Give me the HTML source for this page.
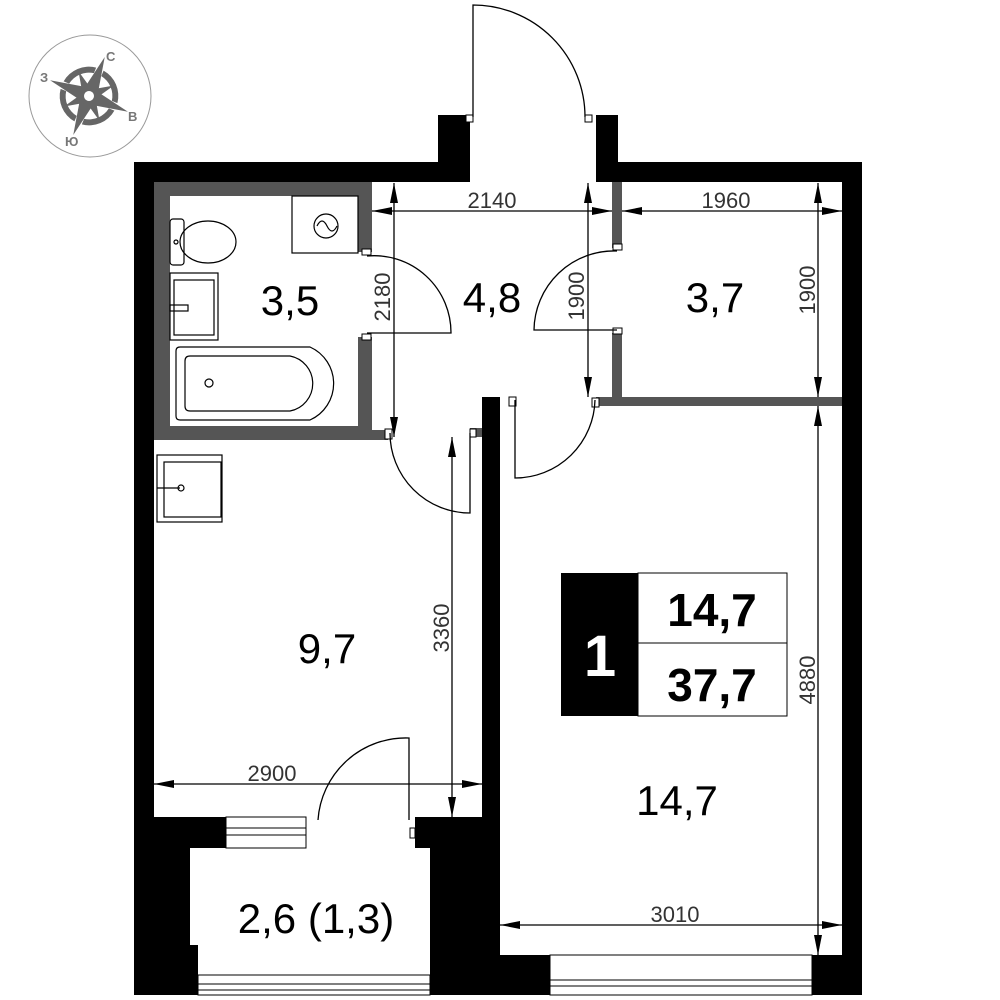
<!DOCTYPE html>
<html><head><meta charset="utf-8"><style>
html,body{margin:0;padding:0;background:#fff}
svg{display:block}
text{font-family:"Liberation Sans",sans-serif}
</style></head><body>
<svg width="1000" height="1000" viewBox="0 0 1000 1000" xmlns="http://www.w3.org/2000/svg">
<defs>
<marker id="b" viewBox="0 0 20 10" refX="20" refY="5" markerWidth="20" markerHeight="10" markerUnits="userSpaceOnUse" orient="auto-start-reverse"><path d="M0,1 L20,5 L0,9 z" fill="#000"/></marker>
</defs>
<!-- compass -->
<g>
<circle cx="90" cy="96" r="61" fill="none" stroke="#999" stroke-width="1"/>
<g transform="translate(89,96) rotate(22)" fill="#666" stroke="none">
<path d="M-29,-4 A29,29 0 0 1 -4,-29 L-4,-23 A23,23 0 0 0 -23,-4z"/>
<path d="M29,4 A29,29 0 0 1 4,29 L4,23 A23,23 0 0 0 23,4z"/>
<path d="M4,-29 A29,29 0 0 1 29,-4 L23,-4 A23,23 0 0 0 4,-23z"/>
<path d="M-29,4 A29,29 0 0 0 -4,29 L-4,23 A23,23 0 0 1 -23,4z"/>
<path d="M0,-42 L7,-7 L0,0z M0,-42 L-7,-7 L0,0z M0,42 L7,7 L0,0z M0,42 L-7,7 L0,0z M-42,0 L-7,-7 L0,0z M-42,0 L-7,7 L0,0z M42,0 L7,-7 L0,0z M42,0 L7,7 L0,0z"/>
<g transform="rotate(45)"><path d="M0,-27 L5,-5 L0,0z M0,-27 L-5,-5 L0,0z M0,27 L5,5 L0,0z M0,27 L-5,5 L0,0z M-27,0 L-5,-5 L0,0z M-27,0 L-5,5 L0,0z M27,0 L5,-5 L0,0z M27,0 L5,5 L0,0z"/></g>
<circle r="7" fill="#fff" stroke="#666" stroke-width="4"/>
</g>
<g fill="#777" font-weight="bold" font-size="13">
<text x="106" y="61">С</text><text x="128" y="121">В</text><text x="65" y="146">Ю</text><text x="40" y="82">З</text>
</g>
</g>
<!-- black walls -->
<g fill="#000">
<rect x="134" y="162" width="328" height="20"/>
<rect x="438" y="115" width="32" height="67"/>
<rect x="596" y="115" width="22" height="67"/>
<rect x="596" y="162" width="266" height="20"/>
<rect x="842" y="162" width="20" height="833"/>
<rect x="134" y="162" width="20" height="655"/>
<rect x="134" y="817" width="56" height="178"/>
<rect x="190" y="817" width="36" height="31"/>
<rect x="190" y="945" width="8" height="50"/>
<rect x="415" y="817" width="85" height="31"/>
<rect x="430" y="848" width="70" height="147"/>
<rect x="482" y="397" width="18" height="420"/>
<rect x="500" y="955" width="50" height="40"/>
<rect x="812" y="955" width="50" height="40"/>
</g>
<!-- gray walls -->
<g fill="#555">
<rect x="154" y="182" width="218" height="14"/>
<rect x="154" y="182" width="16" height="258"/>
<rect x="154" y="426" width="218" height="14"/>
<rect x="358" y="182" width="14" height="70"/>
<rect x="358" y="337" width="14" height="103"/>
<rect x="372" y="430" width="16" height="10"/>
<rect x="612" y="182" width="10" height="66"/>
<rect x="612" y="333" width="10" height="64"/>
<rect x="596" y="397" width="246" height="9"/>
<rect x="470" y="428" width="12" height="9"/>
</g>
<!-- door hinge squares -->
<g fill="#fff" stroke="#000" stroke-width="1">
<rect x="466" y="115" width="7" height="7"/><rect x="585" y="115" width="7" height="7"/>
<rect x="362" y="249" width="9" height="6"/><rect x="362" y="334" width="9" height="6"/>
<rect x="613" y="244" width="9" height="6"/><rect x="613" y="328" width="9" height="6"/>
<rect x="385" y="429" width="7" height="10"/><rect x="470" y="429" width="6" height="8"/>
<rect x="509" y="397" width="7" height="9"/><rect x="592" y="398" width="7" height="9"/>
</g>
<!-- doors -->
<g fill="none" stroke="#000" stroke-width="1.3">
<path d="M473,117 L473,5 A112,112 0 0 1 585,117"/>
<path d="M367,256 A77,77 0 0 1 451,333 L367,333"/>
<path d="M617,251 A80,80 0 0 0 534,330 L617,330"/>
<path d="M390,433 A80,80 0 0 0 470,513 L470,433"/>
<path d="M515,400 L515,478 A80,80 0 0 0 595,400"/>
<path d="M409,820 L409,738 A88,88 0 0 0 318,820"/>
</g>
<!-- windows -->
<g fill="#fff" stroke="#000" stroke-width="1">
<rect x="226" y="817" width="80" height="31"/>
<line x1="226" y1="828" x2="306" y2="828"/><line x1="226" y1="835" x2="306" y2="835"/>
<rect x="198" y="975" width="232" height="20"/>
<line x1="198" y1="984" x2="430" y2="984"/><line x1="198" y1="990" x2="430" y2="990"/>
<rect x="550" y="955" width="262" height="40"/>
<line x1="550" y1="980" x2="812" y2="980"/><line x1="550" y1="986" x2="812" y2="986"/>
</g>
<rect x="410" y="828" width="5" height="10" fill="#fff" stroke="#000"/>
<!-- fixtures -->
<g fill="none" stroke="#000" stroke-width="1.2">
<rect x="292" y="196" width="66" height="57"/>
<circle cx="326" cy="226" r="12"/>
<path d="M317,226 q5,-10 10,0 q5,10 10,0"/>
<rect x="170" y="219" width="14" height="46" rx="3"/>
<ellipse cx="208" cy="242" rx="28" ry="21"/>
<circle cx="176" cy="242" r="2"/>
<rect x="170" y="273" width="48" height="67"/>
<rect x="174" y="280" width="40" height="55"/>
<rect x="170" y="305" width="18" height="6"/>
<path d="M180,347 H310 A40,40 0 0 1 310,420 H180 Q176,420 176,416 V351 Q176,347 180,347 Z"/>
<path d="M190,356 H290 A28,28 0 0 1 290,411 H190 Q185,411 185,406 V361 Q185,356 190,356 Z"/>
<circle cx="209" cy="383" r="4"/>
<rect x="157" y="455" width="65" height="67"/>
<rect x="164" y="462" width="57" height="55"/>
<line x1="157" y1="488" x2="180" y2="488"/>
<circle cx="181" cy="488" r="3"/>
</g>
<!-- dimension lines -->
<g stroke="#000" stroke-width="1.3" fill="none">
<line x1="372" y1="211" x2="612" y2="211" marker-start="url(#b)" marker-end="url(#b)"/>
<line x1="622" y1="211" x2="842" y2="211" marker-start="url(#b)" marker-end="url(#b)"/>
<line x1="394" y1="183" x2="394" y2="437" marker-start="url(#b)" marker-end="url(#b)"/>
<line x1="588" y1="183" x2="588" y2="397" marker-start="url(#b)" marker-end="url(#b)"/>
<line x1="818" y1="183" x2="818" y2="397" marker-start="url(#b)" marker-end="url(#b)"/>
<line x1="452" y1="437" x2="452" y2="817" marker-start="url(#b)" marker-end="url(#b)"/>
<line x1="154" y1="784" x2="482" y2="784" marker-start="url(#b)" marker-end="url(#b)"/>
<line x1="818" y1="406" x2="818" y2="955" marker-start="url(#b)" marker-end="url(#b)"/>
<line x1="500" y1="925" x2="842" y2="925" marker-start="url(#b)" marker-end="url(#b)"/>
</g>
<g fill="#333" font-size="22">
<text x="492" y="208" text-anchor="middle">2140</text>
<text x="726" y="208" text-anchor="middle">1960</text>
<text x="272" y="781" text-anchor="middle">2900</text>
<text x="675" y="922" text-anchor="middle">3010</text>
<text transform="translate(390,297) rotate(-90)" text-anchor="middle">2180</text>
<text transform="translate(584,296) rotate(-90)" text-anchor="middle">1900</text>
<text transform="translate(815,290) rotate(-90)" text-anchor="middle">1900</text>
<text transform="translate(449,628) rotate(-90)" text-anchor="middle">3360</text>
<text transform="translate(815,680) rotate(-90)" text-anchor="middle">4880</text>
</g>
<!-- area labels -->
<g fill="#000" font-size="42" text-anchor="middle">
<text x="290" y="315">3,5</text>
<text x="492" y="312">4,8</text>
<text x="715" y="312">3,7</text>
<text x="327" y="663">9,7</text>
<text x="677" y="815">14,7</text>
<text x="316" y="933">2,6 (1,3)</text>
</g>
<!-- badge -->
<rect x="561" y="573" width="77" height="143" fill="#000"/>
<rect x="638" y="573" width="149" height="143" fill="#fff" stroke="#000" stroke-width="1"/>
<line x1="638" y1="643" x2="787" y2="643" stroke="#000" stroke-width="1"/>
<text x="600" y="676" fill="#fff" font-size="58" font-weight="bold" text-anchor="middle">1</text>
<text x="712" y="626" fill="#000" font-size="46" font-weight="bold" text-anchor="middle">14,7</text>
<text x="712" y="701" fill="#000" font-size="46" font-weight="bold" text-anchor="middle">37,7</text>
</svg>
</body></html>
